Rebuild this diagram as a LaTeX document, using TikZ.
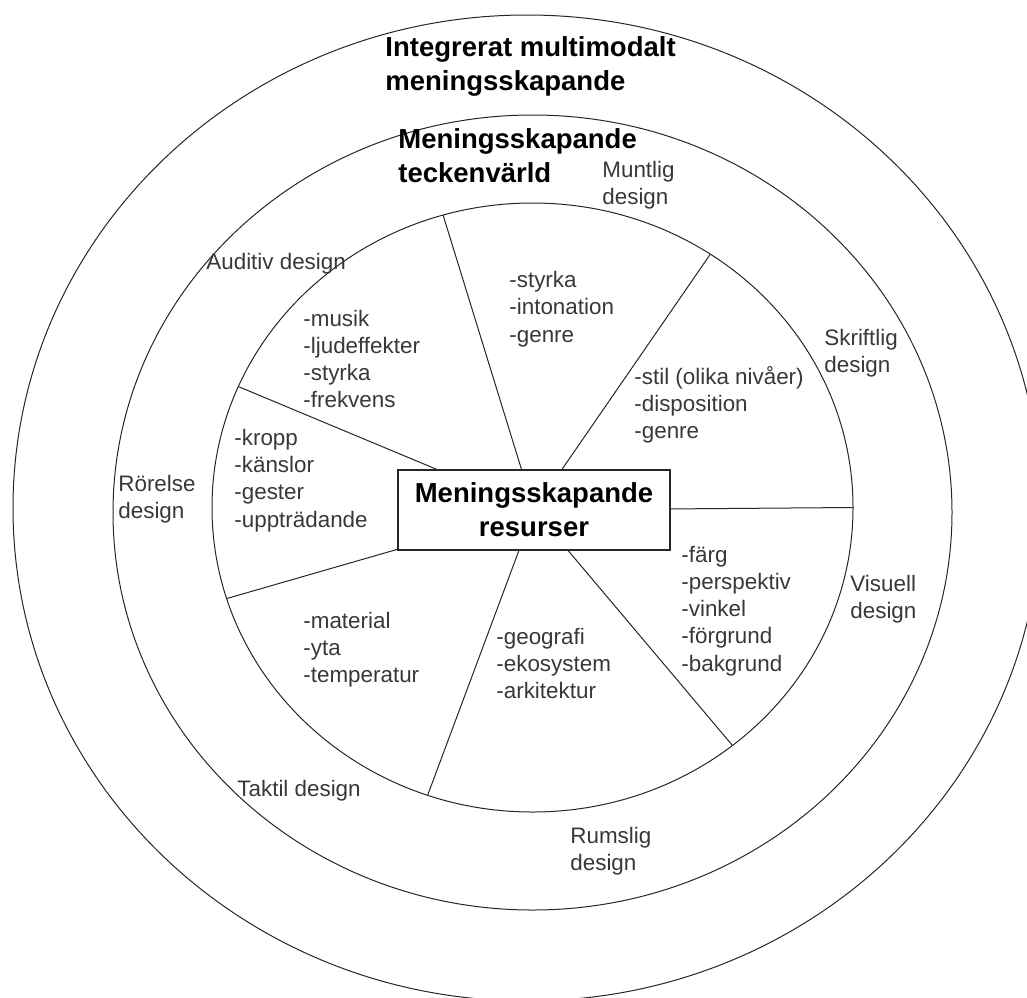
\documentclass[tikz,border=0pt]{standalone}
\usepackage{fontspec}
\setmainfont{Liberation Sans}
\usetikzlibrary{calc}
\definecolor{txtgray}{gray}{0.22}
\begin{document}
\begin{tikzpicture}
    [
        x = 0.5pt, y = -0.5pt,
        ring/.style = {draw = black!85, line width = 0.5pt},
        spoke/.style = {draw = black!85, line width = 0.5pt},
        listtext/.style = {anchor = west, inner sep = 0pt, align = left, text = txtgray,
            font = \fontsize{11.2}{13.6}\selectfont},
        titletext/.style = {anchor = west, inner sep = 0pt, align = left,
            font = \bfseries\fontsize{13.75}{16.75}\selectfont}
    ]

        \useasboundingbox (0,0) rectangle (1027,997);

        \draw[ring] (527,508) ellipse [x radius = 514, y radius = 493];
        \draw[ring] (532.5,512.5) ellipse [x radius = 419.5, y radius = 397.5];

        \coordinate (hub) at (532.5,507.5);
        \coordinate (s1) at ($(hub)+(-106.2:320.5 and 304.5)$);
        \coordinate (s2) at ($(hub)+(-56.3:320.5 and 304.5)$);
        \coordinate (s3) at ($(hub)+(0:320.5 and 304.5)$);
        \coordinate (s4) at ($(hub)+(51.4:320.5 and 304.5)$);
        \coordinate (s5) at ($(hub)+(109.1:320.5 and 304.5)$);
        \coordinate (s6) at ($(hub)+(162.6:320.5 and 304.5)$);
        \coordinate (s7) at ($(hub)+(203.4:320.5 and 304.5)$);

        \node[draw = black!85, line width = 0.6pt, fill = white, minimum width = 136pt, minimum height = 40pt,
            align = center, font = \bfseries\fontsize{13.75}{17}\selectfont] (res) at (534,510)
            {Meningsskapande\\resurser};

        \foreach \s in {s1,s2,s3,s4,s5,s6,s7}
            \draw[spoke] (res) -- (\s);

        \draw[ring] (hub) ellipse [x radius = 320.5, y radius = 304.5];

        \node[titletext] (outer) at (385,66.5) {Integrerat multimodalt\\meningsskapande};
        \node[titletext] (middle) at (398,155.5) {Meningsskapande\\teckenvärld};

        \node[listtext] (muntlig) at (602,185.5) {Muntlig\\design};
        \node[listtext] (auditiv) at (206,264) {Auditiv design};
        \node[listtext] (skriftlig) at (824,353.5) {Skriftlig\\design};
        \node[listtext] (rorelse) at (118,499.5) {Rörelse\\design};
        \node[listtext] (visuell) at (850,599) {Visuell\\design};
        \node[listtext] (taktil) at (237,791) {Taktil design};
        \node[listtext] (rumslig) at (570,851.5) {Rumslig\\design};

        \node[listtext] (muntligres) at (509,309) {-styrka\\-intonation\\-genre};
        \node[listtext] (auditivres) at (303,359) {-musik\\-ljudeffekter\\-styrka\\-frekvens};
        \node[listtext] (skriftligres) at (634,405) {-stil (olika nivåer)\\-disposition\\-genre};
        \node[listtext] (rorelseres) at (234,480.5) {-kropp\\-känslor\\-gester\\-uppträdande};
        \node[listtext] (visuellres) at (681,611) {-färg\\-perspektiv\\-vinkel\\-förgrund\\-bakgrund};
        \node[listtext] (taktilres) at (303,649.5) {-material\\-yta\\-temperatur};
        \node[listtext] (rumsligres) at (496,663.5) {-geografi\\-ekosystem\\-arkitektur};
    \end{tikzpicture}
\end{document}
